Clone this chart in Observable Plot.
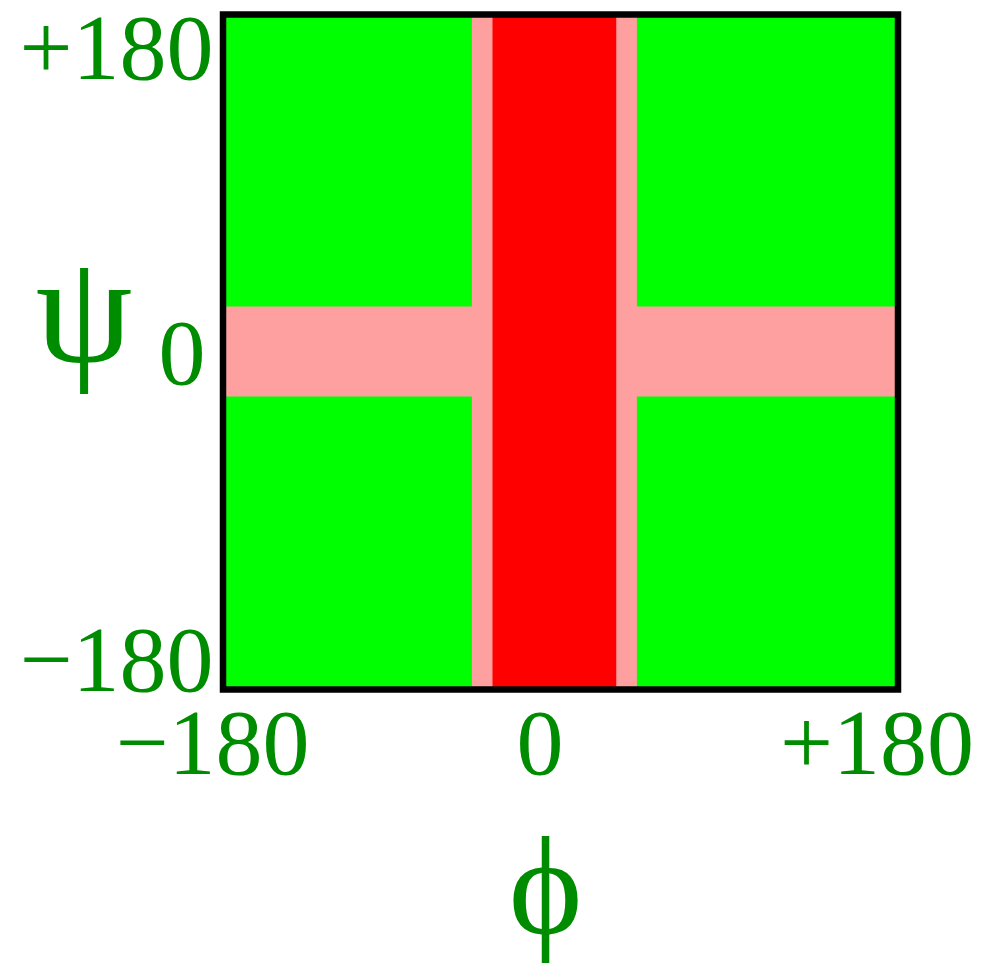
<!DOCTYPE html>
<html>
<head>
<meta charset="utf-8">
<script src="https://cdn.jsdelivr.net/npm/d3@7"></script>
<script src="https://cdn.jsdelivr.net/npm/@observablehq/plot@0.6"></script>
<style>
  html, body { margin: 0; padding: 0; background: #fff; }
  #chart svg { display: block; }
</style>
</head>
<body>
<div id="chart"></div>
<script>
// Allowed / partly allowed / disallowed zones of the φ–ψ map (degrees)
const zoneKind = ["allowed", "partial", "partial", "disallowed"];
const phiFrom  = [-180, -180, -47, -36];
const phiTo    = [ 180,  180,  41,  30];
const psiFrom  = [-180,  -24, -180, -180];
const psiTo    = [ 180,   24,  180,  180];

const kinds  = ["allowed", "partial", "disallowed"];
const colors = ["#00ff00", "#ffa0a0", "#ff0000"];

// tick values and their printed labels
const phiTicks  = [-180, 0, 180];
const phiLabels = ["\u2212180", "0", "+180"];
const psiTicks  = [-180, 0, 180];
const psiLabels = ["\u2212180", "0", "+180"];

const zones = zoneKind.map((k, i) => ({
  kind: k, x1: phiFrom[i], x2: phiTo[i], y1: psiFrom[i], y2: psiTo[i]
}));

const ink = "#008c00";
const font = "'Liberation Serif', 'Times New Roman', serif";

// per-label nudges for the hand-set tick text
const phiShift = [-10.5, -20.5, -21];
const psiShift = [{dx: -9.5, dy: 1}, {dx: -17.5, dy: 31.5}, {dx: -9.5, dy: 64}];

const marks = [
  Plot.rect(zones, {x1: "x1", x2: "x2", y1: "y1", y2: "y2", fill: "kind"}),
  Plot.frame({stroke: "#000", strokeWidth: 6.5}),
  ...phiTicks.map((t, i) => Plot.text([t], {
    x: d => d, frameAnchor: "bottom", text: () => phiLabels[i],
    textAnchor: "middle", lineAnchor: "bottom",
    dx: phiShift[i], dy: 84, fontSize: 94, fill: ink, fontFamily: font
  })),
  ...psiTicks.map((t, i) => Plot.text([t], {
    y: d => d, frameAnchor: "left", text: () => psiLabels[i],
    textAnchor: "end", lineAnchor: "bottom",
    dx: psiShift[i].dx, dy: psiShift[i].dy, fontSize: 94, fill: ink, fontFamily: font
  })),
  Plot.text(["\u03d5"], {x: 0, frameAnchor: "bottom", text: d => d,
    textAnchor: "middle", lineAnchor: "bottom", dx: -15, dy: 243,
    fontSize: 140, fill: ink, fontFamily: font}),
  Plot.text(["\u03c8"], {y: 0, frameAnchor: "left", text: d => d,
    textAnchor: "middle", lineAnchor: "bottom", dx: -139, dy: 8.5,
    fontSize: 155, fill: ink, fontFamily: font})
];

const chart = Plot.plot({
  width: 984,
  height: 965,
  marginLeft: 222.5,
  marginRight: 86.5,
  marginTop: 14,
  marginBottom: 276,
  x: {domain: [-180, 180], axis: null},
  y: {domain: [-180, 180], axis: null},
  color: {domain: kinds, range: colors},
  style: {background: "#fff", overflow: "visible"},
  marks
});

document.getElementById("chart").appendChild(chart);
</script>
</body>
</html>
